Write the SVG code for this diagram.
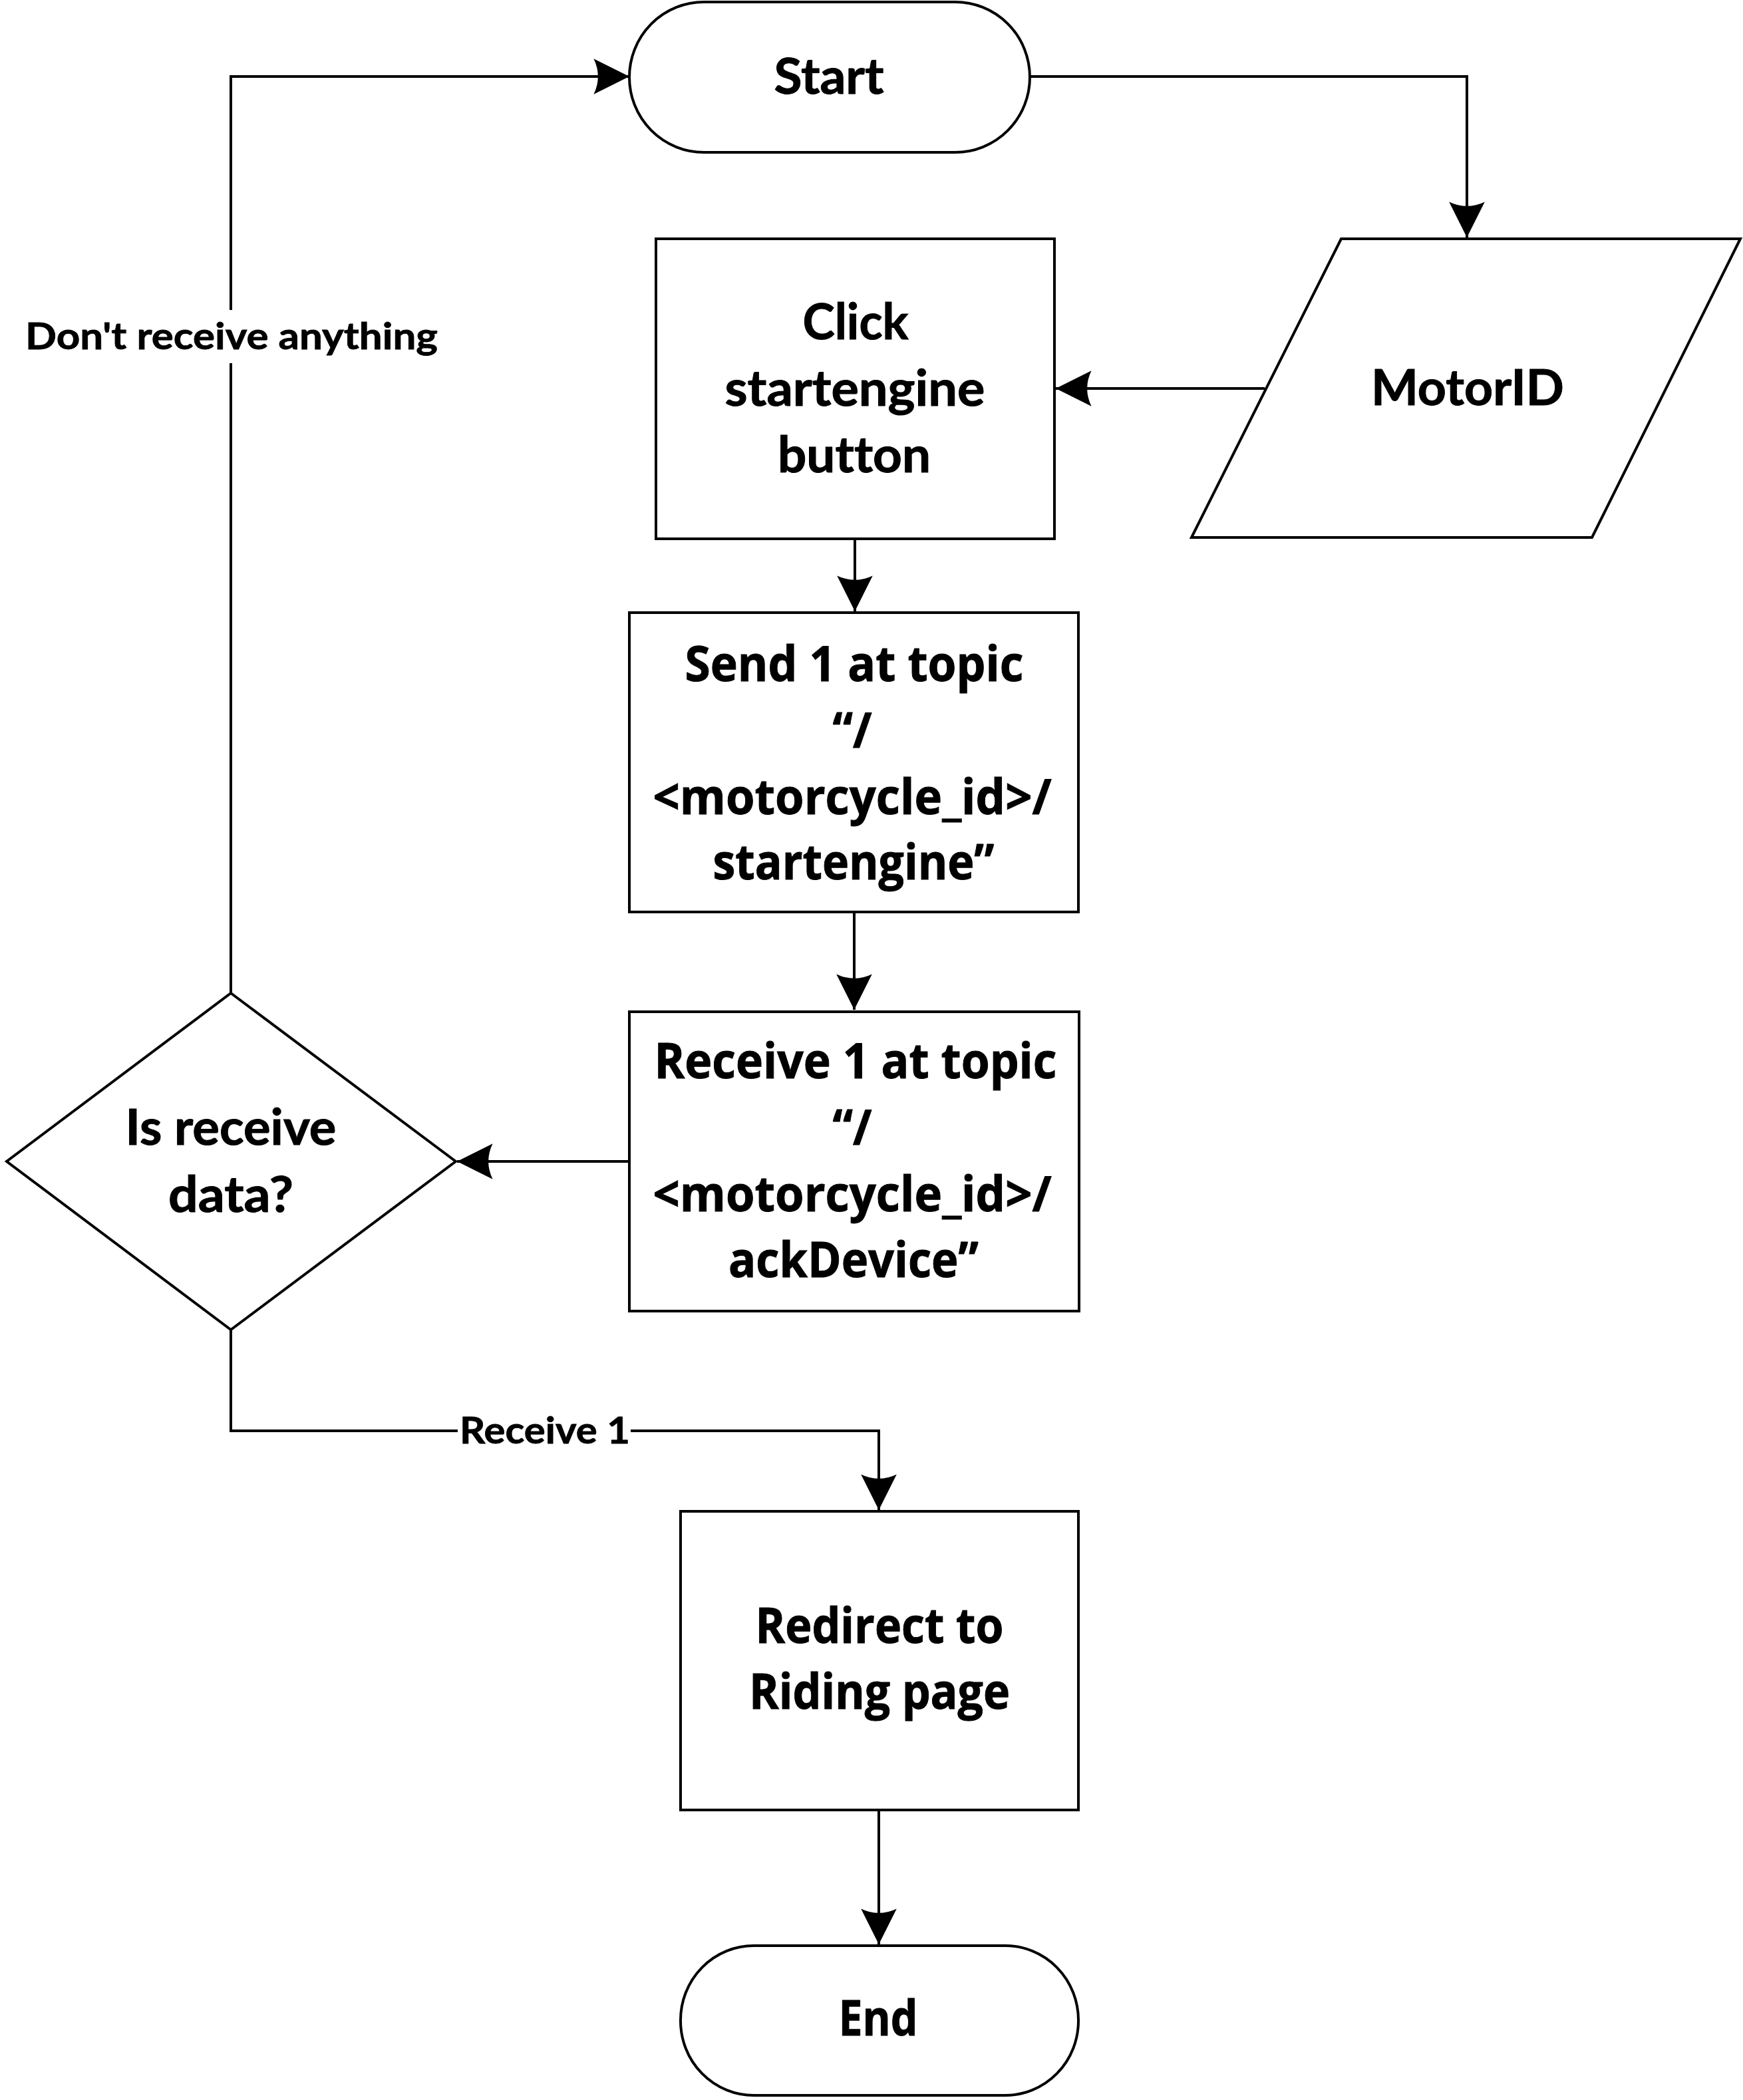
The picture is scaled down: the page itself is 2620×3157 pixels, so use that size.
<svg xmlns="http://www.w3.org/2000/svg" width="2620" height="3157" viewBox="0 0 2620 3157">
<style>
text{font-variant-ligatures:none;font-feature-settings:"liga" 0,"clig" 0}
.shape{fill:#fff;stroke:#000;stroke-width:4;stroke-linejoin:miter}
.conn{fill:none;stroke:#000;stroke-width:4}
.c{font-family:Lato,"Liberation Sans",sans-serif;font-weight:bold;font-size:74px;fill:#000;text-anchor:middle;stroke:#000;stroke-width:1}
.s{font-family:"Open Sans","Liberation Sans",sans-serif;font-weight:bold;font-size:74px;fill:#000;text-anchor:middle;stroke:#000;stroke-width:1}
.lbl{font-family:Lato,"Liberation Sans",sans-serif;font-weight:bold;font-size:56px;fill:#000;text-anchor:middle;stroke:#000;stroke-width:0.8}
</style>
<defs>
<marker id="arr" markerUnits="userSpaceOnUse" markerWidth="60" markerHeight="60" viewBox="-52 -28 54 56" refX="0" refY="0" orient="auto">
<path d="M0,0 L-50,-25 Q-38,0 -50,25 Z" fill="#000"/>
</marker>
</defs>
<rect width="2620" height="3157" fill="#fff"/>
<g id="connectors">
<path class="conn" d="M347,1493 V115 H946" marker-end="url(#arr)"/>
<path class="conn" d="M1548,115 H2205 V357" marker-end="url(#arr)"/>
<path class="conn" d="M1901,584 H1587" marker-end="url(#arr)"/>
<path class="conn" d="M1285,810 V919" marker-end="url(#arr)"/>
<path class="conn" d="M1284,1371 V1518" marker-end="url(#arr)"/>
<path class="conn" d="M946,1746 H687" marker-end="url(#arr)"/>
<path class="conn" d="M347,1999 V2151 H1321 V2270" marker-end="url(#arr)"/>
<path class="conn" d="M1321,2721 V2923" marker-end="url(#arr)"/>
<g id="label-dont">
<rect x="30" y="466" width="635" height="80" fill="#fff"/>
<text class="lbl" x="348" y="525" textLength="620" lengthAdjust="spacingAndGlyphs">Don't receive anything</text>
</g>
<g id="label-receive1">
<rect x="688" y="2122" width="260" height="60" fill="#fff"/>
<text class="lbl" x="819" y="2170" textLength="256" lengthAdjust="spacingAndGlyphs">Receive 1</text>
</g>
</g>
<g id="start">
<rect class="shape" x="946" y="3" width="602" height="226" rx="112" ry="113"/>
<text class="c" x="1246" y="141" textLength="165" lengthAdjust="spacingAndGlyphs">Start</text>
</g>
<g id="motorid">
<polygon class="shape" points="2016,359 2616,359 2393,808 1791,808"/>
<text class="c" x="2206" y="609" textLength="290" lengthAdjust="spacingAndGlyphs">MotorID</text>
</g>
<g id="click">
<rect class="shape" x="986" y="359" width="599" height="451"/>
<text class="c" x="1286" y="510" textLength="159" lengthAdjust="spacingAndGlyphs">Click</text>
<text class="c" x="1285" y="610" textLength="391" lengthAdjust="spacingAndGlyphs">startengine</text>
<text class="c" x="1284" y="710" textLength="230" lengthAdjust="spacingAndGlyphs">button</text>
</g>
<g id="send">
<rect class="shape" x="946" y="921" width="675" height="450"/>
<text class="s" x="1284" y="1024" textLength="509" lengthAdjust="spacingAndGlyphs">Send 1 at topic</text>
<text class="s" x="1281" y="1124" textLength="59" lengthAdjust="spacingAndGlyphs">“/</text>
<text class="s" x="1281" y="1224" textLength="599" lengthAdjust="spacingAndGlyphs">&lt;motorcycle_id&gt;/</text>
<text class="s" x="1283" y="1322" textLength="423" lengthAdjust="spacingAndGlyphs">startengine”</text>
</g>
<g id="receive">
<rect class="shape" x="946" y="1521" width="676" height="450"/>
<text class="s" x="1286" y="1621" textLength="605" lengthAdjust="spacingAndGlyphs">Receive 1 at topic</text>
<text class="s" x="1281" y="1721" textLength="59" lengthAdjust="spacingAndGlyphs">“/</text>
<text class="s" x="1281" y="1821" textLength="599" lengthAdjust="spacingAndGlyphs">&lt;motorcycle_id&gt;/</text>
<text class="s" x="1283" y="1920" textLength="376" lengthAdjust="spacingAndGlyphs">ackDevice”</text>
</g>
<g id="decision">
<polygon class="shape" points="347,1493 685,1746 347,1999 10,1746"/>
<text class="c" x="347" y="1721" textLength="317" lengthAdjust="spacingAndGlyphs">Is receive</text>
<text class="c" x="347" y="1822" textLength="188" lengthAdjust="spacingAndGlyphs">data?</text>
</g>
<g id="redirect">
<rect class="shape" x="1023" y="2272" width="598" height="449"/>
<text class="s" x="1322" y="2470" textLength="373" lengthAdjust="spacingAndGlyphs">Redirect to</text>
<text class="s" x="1322" y="2569" textLength="392" lengthAdjust="spacingAndGlyphs">Riding page</text>
</g>
<g id="end">
<rect class="shape" x="1023" y="2925" width="598" height="225" rx="110" ry="112"/>
<text class="s" x="1320" y="3060" textLength="119" lengthAdjust="spacingAndGlyphs">End</text>
</g>
</svg>
